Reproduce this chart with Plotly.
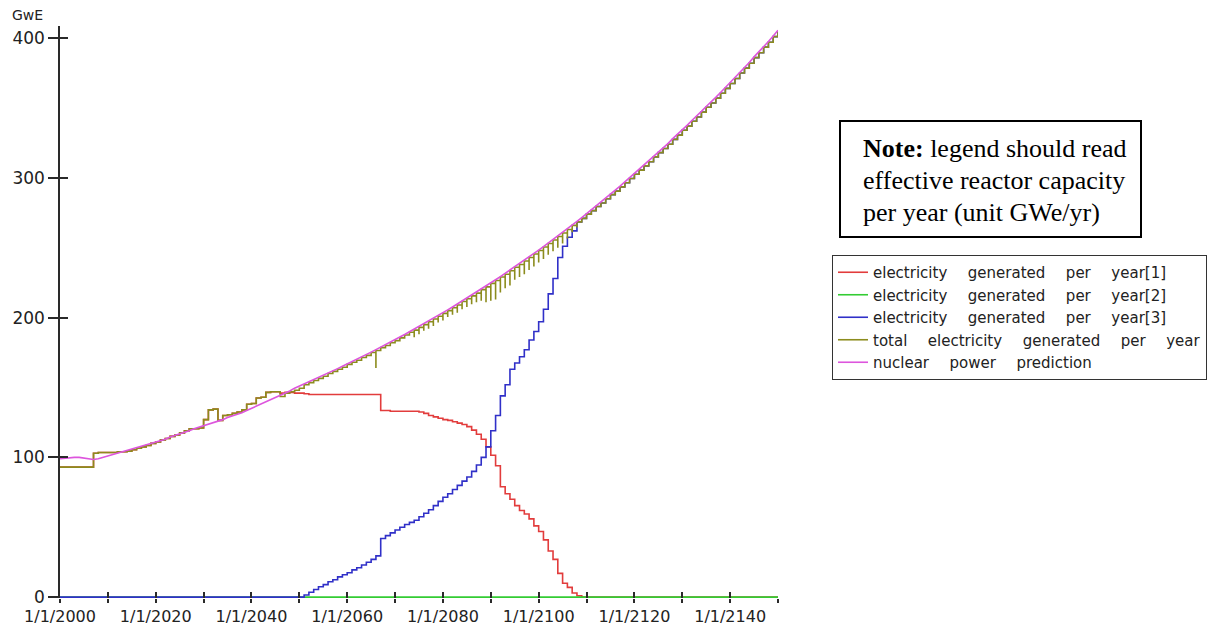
import plotly.graph_objects as go

# ---------------------------------------------------------------------------
# Data (GWe), one value per year, 2000 .. 2150
# ---------------------------------------------------------------------------
years = list(range(2000, 2151))

# total electricity generated per year, 2000 .. 2050
total_early = [
    93, 93, 93, 93, 93, 93, 93, 103, 103.5, 103.5,
    103.5, 103.5, 104, 104, 104.5, 105.5, 106.5, 107.5, 108.5, 110,
    111, 112.5, 113.5, 115, 116, 117.5, 119, 120.5, 120.5, 121,
    127, 134, 134.5, 126.5, 130, 130.5, 131.5, 132.5, 134, 138,
    138.5, 142.5, 143, 146.5, 147, 147, 143.5, 146, 147, 148,
    149.5,
]
# total electricity generated per year, 2051 .. 2150
total_late = [
    152, 153.5, 155, 156.5, 158, 160, 161.5, 163, 164.5, 166.5,
    168, 169.5, 171.5, 173, 175, 176.5, 178.5, 180, 182, 183.5,
    185.5, 187.5, 189.5, 191, 193, 195, 197, 199, 201, 203,
    205, 207, 209, 211.5, 213.5, 215.5, 217.5, 220, 222, 224.5,
    226.5, 229, 231, 233.5, 236, 238, 240.5, 243, 245.5, 248,
    250.5, 253, 255.5, 258, 260.5, 263, 266, 268.5, 271, 274,
    276.5, 279.5, 282, 285, 288, 290.5, 293.5, 296.5, 299.5, 302.5,
    305.5, 308.5, 311.5, 315, 318, 321, 324, 327.5, 330.5, 334,
    337, 340.5, 343.5, 347, 350.5, 353.5, 357, 360.5, 364, 367.5,
    371, 375, 378.5, 382, 386, 389.5, 393.5, 397, 401, 405,
]
total_gw = total_early + total_late

# short dips of the total when reactors retire before replacements start
dip_years = [2066, 2074, 2075, 2076, 2077, 2078, 2079, 2080, 2081, 2082,
             2083, 2084, 2085, 2086, 2087, 2088, 2089, 2090, 2091, 2092,
             2093, 2094, 2095, 2096, 2097, 2098, 2099, 2100, 2101, 2102,
             2103, 2104, 2105, 2106, 2107, 2108]
dip_gw = [164, 186, 188, 190.5, 192, 194, 196.5, 198, 200.5, 202,
          203.5, 206, 207.5, 209.5, 211, 212, 211, 212, 213, 218,
          221, 223, 227, 229, 231, 234, 236.5, 239.5, 242, 245,
          247.5, 250, 253, 256.5, 261, 264.5]

# reactor type 1, 2046 .. 2109 (earlier years carry the whole total)
type1_late = [
    146, 146.5, 146.5, 146, 146, 145.5,
    145, 145, 145, 145, 145, 145, 145, 145, 145, 145, 145, 145, 145, 145, 145,
    133.5, 133.5, 133, 133, 133, 133, 133, 133,
    132.5, 131.5, 130, 129, 128, 127, 126.5, 125.5, 124.5, 123.5,
    122, 119.5, 116.5, 113, 107.5, 101.5, 94, 79, 74, 70,
    65.5, 62, 59.5, 56, 51, 47, 41, 33, 27, 17,
    10, 7, 3, 1, 0,
]
type1_gw = total_early[:46] + type1_late + [0] * 41

# reactor type 2 stays at zero over the whole run
type2_years = [2000, 2150]
type2_gw = [0, 0]

# reactor type 3, 2050 .. 2107; after that it carries the whole total
type3_mid = [
    0, 1.5, 3.5, 5.5, 7.5, 9, 11, 12.5, 14.5, 16,
    17.5, 19.5, 21, 23, 25, 27, 29.5, 42, 44, 46,
    48, 50, 52, 53.5, 55, 57.5, 60, 62.5, 65.5, 68.5,
    71.5, 74, 77, 80, 83, 86, 90, 94.5, 100, 107.5,
    119, 130, 144, 152, 163, 167.5, 172, 177, 184, 190,
    197, 206, 217, 228, 243, 251, 257.5, 262,
]
type3_gw = [0] * 50 + type3_mid + total_gw[108:]

# nuclear power prediction, 2000 .. 2150
prediction_gw = [
    99, 99.5, 100, 100, 100, 99.5, 99, 98.5, 99, 100,
    101, 102, 103, 104, 105, 106, 107, 108, 109, 110,
    111, 112, 113, 114.5, 115.5, 117, 118, 119, 120.5, 121.5,
    122.5, 123.5, 124.5, 126, 127, 128.5, 129.5, 130.5, 132, 133.5,
    135, 136.5, 138, 139.5, 141, 142.5, 144, 146, 147.5, 149.5,
    151.0, 152.5, 154.0, 155.6, 157.1, 158.7, 160.3, 161.9, 163.5, 165.2,
    166.8, 168.5, 170.1, 171.8, 173.6, 175.3, 177.1, 178.8, 180.6, 182.4,
    184.2, 186.1, 187.9, 189.8, 191.7, 193.6, 195.6, 197.5, 199.5, 201.5,
    203.5, 205.5, 207.6, 209.7, 211.8, 213.9, 216.0, 218.2, 220.4, 222.6,
    224.8, 227.1, 229.3, 231.6, 233.9, 236.3, 238.6, 241.0, 243.4, 245.9,
    248.3, 250.8, 253.3, 255.9, 258.4, 261.0, 263.6, 266.3, 268.9, 271.6,
    274.3, 277.1, 279.9, 282.7, 285.5, 288.3, 291.2, 294.1, 297.1, 300.0,
    303.0, 306.1, 309.1, 312.2, 315.4, 318.5, 321.5, 324.5, 328, 331,
    334.5, 337.5, 341, 344, 347.5, 351, 354, 357.5, 361, 364.5,
    368, 371.5, 375.5, 379, 382.5, 386.5, 390, 394, 397.5, 401.5,
    405.5,
]

x_tick_years = list(range(2000, 2151, 10))
x_tick_text = ["1/1/%d" % y if (y - 2000) % 20 == 0 and y < 2150 else "" for y in x_tick_years]
y_ticks = [0, 100, 200, 300, 400]

# ---------------------------------------------------------------------------
# Total as a stepped series with the retirement dips inserted
# ---------------------------------------------------------------------------
dips = dict(zip(dip_years, dip_gw))
total_x, total_y = [], []
for yr, v in zip(years, total_gw):
    if yr in dips:
        total_x.append(yr)
        total_y.append(dips[yr])
    total_x.append(yr)
    total_y.append(v)

SP = "\u00a0\u00a0\u00a0\u00a0\u200a"   # wide word gaps of the legend labels


def label(text):
    return text.replace(" ", SP)


LW = 1.6
fig = go.Figure()
fig.add_trace(go.Scatter(x=years, y=type1_gw, mode="lines", line_shape="hv",
                         line=dict(color="#e23c3c", width=LW),
                         name=label("electricity generated per year[1]")))
fig.add_trace(go.Scatter(x=type2_years, y=type2_gw, mode="lines",
                         line=dict(color="#33cc33", width=LW),
                         name=label("electricity generated per year[2]")))
fig.add_trace(go.Scatter(x=years, y=type3_gw, mode="lines", line_shape="hv",
                         line=dict(color="#3030c8", width=LW),
                         name=label("electricity generated per year[3]")))
fig.add_trace(go.Scatter(x=total_x, y=total_y, mode="lines", line_shape="hv",
                         line=dict(color="#8c8c1e", width=LW),
                         name=label("total electricity generated per year")))
fig.add_trace(go.Scatter(x=years, y=prediction_gw, mode="lines",
                         line=dict(color="#dd55dd", width=LW),
                         name=label("nuclear power prediction"),
                         xaxis="x2", yaxis="y2"))

# plot area in pixels: x 60..778, y 26..598
PL, PR, PT, PB = 60, 778, 26, 598


def px_x(p):
    return (p - PL) / (PR - PL)


def px_y(p):
    return (PB - p) / (PB - PT)


X_RANGE = [2000, 2150]
Y_RANGE = [-0.6, 408.6]
AX = "#2a2a2a"

fig.update_layout(
    width=1207, height=626,
    margin=dict(l=PL, r=1207 - PR, t=PT, b=626 - PB, autoexpand=False),
    paper_bgcolor="white", plot_bgcolor="white",
    font=dict(family="DejaVu Sans", color="#222"),
    xaxis=dict(range=X_RANGE, tickmode="array", tickvals=x_tick_years, ticktext=x_tick_text,
               ticks="outside", ticklen=4, tickwidth=1.5, tickcolor=AX,
               showline=False, showgrid=False, zeroline=False,
               tickfont=dict(family="DejaVu Sans", size=16, color="#222"),
               automargin=False),
    yaxis=dict(range=Y_RANGE, tickmode="array", tickvals=y_ticks,
               ticks="outside", ticklen=10, tickwidth=1.5, tickcolor=AX,
               showline=True, linecolor=AX, linewidth=1.5,
               showgrid=False, zeroline=False,
               tickfont=dict(family="DejaVu Sans", size=17, color="#222"),
               automargin=False),
    xaxis2=dict(range=X_RANGE, overlaying="x", anchor="y2", tickmode="array",
                tickvals=x_tick_years, ticks="inside", ticklen=6, tickwidth=1.5,
                tickcolor=AX, showticklabels=False, showline=False,
                showgrid=False, zeroline=False, automargin=False),
    yaxis2=dict(range=Y_RANGE, overlaying="y", anchor="x2", tickmode="array",
                tickvals=y_ticks, ticks="inside", ticklen=8, tickwidth=1.5,
                tickcolor=AX, showticklabels=False, showline=False,
                showgrid=False, zeroline=False, automargin=False),
    showlegend=True,
    legend=dict(x=px_x(832), xanchor="left", y=px_y(255), yanchor="top",
                bordercolor="#333", borderwidth=1, bgcolor="white",
                font=dict(family="DejaVu Sans", size=15, color="#222"),
                tracegroupgap=0, itemwidth=30),
    shapes=[dict(type="rect", xref="paper", yref="paper",
                 x0=px_x(840), x1=px_x(1141), y0=px_y(237), y1=px_y(121),
                 line=dict(color="black", width=2), fillcolor="white")],
)

NOTE_FONT = dict(family="Liberation Serif", size=26, color="black")
note_lines = [("<b>Note:</b> legend should read", 148),
              ("effective reactor capacity", 181),
              ("per year (unit GWe/yr)", 213)]
for txt, ypx in note_lines:
    fig.add_annotation(x=px_x(861), y=px_y(ypx), xref="paper", yref="paper",
                       text=txt, showarrow=False, xanchor="left", yanchor="middle",
                       font=NOTE_FONT)

fig.add_annotation(x=px_x(10), y=px_y(15), xref="paper", yref="paper", text="GwE",
                   showarrow=False, xanchor="left", yanchor="middle",
                   font=dict(family="DejaVu Sans", size=14, color="#222"))

fig.write_html("out.html")
